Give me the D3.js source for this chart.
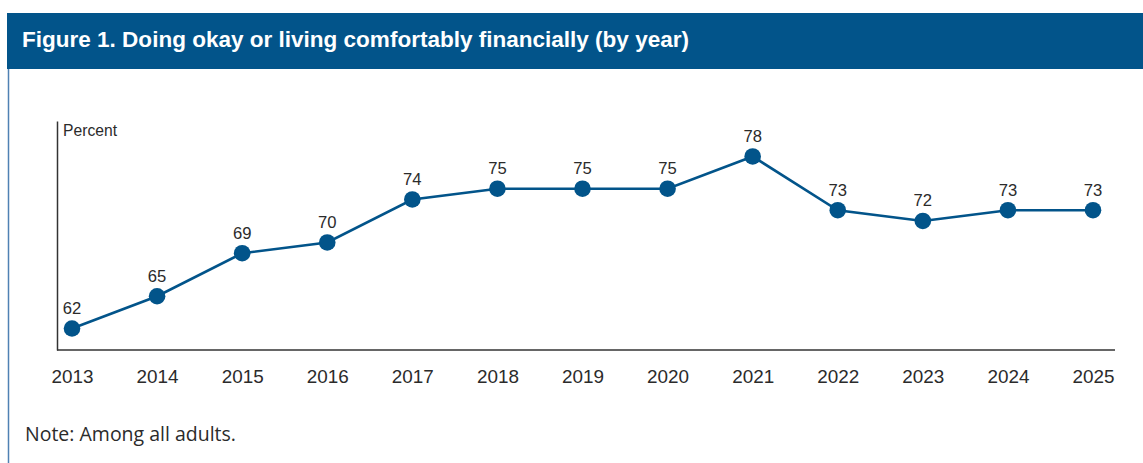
<!DOCTYPE html>
<html>
<head>
<meta charset="utf-8">
<script src="https://cdn.jsdelivr.net/npm/d3@7"></script>
<style>
  body { margin: 0; background: #fff; }
  svg { display: block; }
</style>
</head>
<body>
<svg id="chart" width="1143" height="463"></svg>
<script>
// Share of adults doing okay or living comfortably, by survey year
const years = ["2013","2014","2015","2016","2017","2018","2019","2020","2021","2022","2023","2024","2025"];
const values = [62, 65, 69, 70, 74, 75, 75, 75, 78, 73, 72, 73, 73];

const title = "Figure 1. Doing okay or living comfortably financially (by year)";
const note = "Note: Among all adults.";
const yLabel = "Percent";

const blue = "#02548a";
const ink = "#2b2b2b";
const svg = d3.select("#chart");

// Header band
svg.append("rect").attr("x", 7).attr("y", 13).attr("width", 1136).attr("height", 56).attr("fill", blue);
svg.append("text")
  .attr("x", 22).attr("y", 47)
  .attr("fill", "#fff")
  .attr("font-family", "'Liberation Sans', Arial, sans-serif")
  .attr("font-weight", "bold")
  .attr("font-size", 22.5)
  .attr("textLength", 667)
  .attr("lengthAdjust", "spacingAndGlyphs")
  .text(title);

// Left frame rule
svg.append("line").attr("x1", 8.5).attr("x2", 8.5).attr("y1", 69).attr("y2", 463)
  .attr("stroke", "#4f81b3").attr("stroke-width", 1.5);

// Scales
const x = d3.scalePoint().domain(years).range([72, 1093]);
const y = d3.scaleLinear().domain([60, 81.3]).range([350, 121]);

// Axes
const xAxis = d3.axisBottom(x).tickSize(0).tickPadding(19.5);
const gx = svg.append("g").attr("transform", "translate(0,350)").call(xAxis);
gx.select(".domain").attr("d", "M57,0H1115").attr("stroke", "#333").attr("stroke-width", 1.5);
gx.selectAll("text")
  .attr("font-family", "'Liberation Sans', Arial, sans-serif")
  .attr("font-size", 19).attr("fill", ink)
  .attr("textLength", 42).attr("lengthAdjust", "spacingAndGlyphs");

const yAxis = d3.axisLeft(y).tickValues([]).tickSize(0);
const gy = svg.append("g").attr("transform", "translate(57,0)").call(yAxis);
gy.select(".domain").attr("stroke", "#333").attr("stroke-width", 1.5);

svg.append("text").attr("x", 63).attr("y", 136)
  .attr("font-family", "'Liberation Sans', Arial, sans-serif")
  .attr("font-size", 17).attr("fill", ink)
  .attr("textLength", 54).attr("lengthAdjust", "spacingAndGlyphs")
  .text(yLabel);

// Line and markers
const data = years.map((yr, i) => ({ year: yr, value: values[i] }));
const line = d3.line().x(d => x(d.year)).y(d => y(d.value));
svg.append("path").datum(data)
  .attr("d", line).attr("fill", "none")
  .attr("stroke", blue).attr("stroke-width", 2.6);

svg.selectAll("circle.pt").data(data).join("circle")
  .attr("class", "pt")
  .attr("cx", d => x(d.year)).attr("cy", d => y(d.value))
  .attr("r", 8.3).attr("fill", blue);

svg.selectAll("text.val").data(data).join("text")
  .attr("class", "val")
  .attr("x", d => x(d.year)).attr("y", d => y(d.value) - 14.5)
  .attr("text-anchor", "middle")
  .attr("font-family", "'Liberation Sans', Arial, sans-serif")
  .attr("font-size", 17).attr("fill", ink)
  .attr("textLength", 18.5).attr("lengthAdjust", "spacingAndGlyphs")
  .text(d => d.value);

// Footnote
svg.append("text").attr("x", 25).attr("y", 441)
  .attr("font-family", "'Open Sans', 'Liberation Sans', sans-serif")
  .attr("font-size", 19.5).attr("fill", ink)
  .text(note);
</script>
</body>
</html>
